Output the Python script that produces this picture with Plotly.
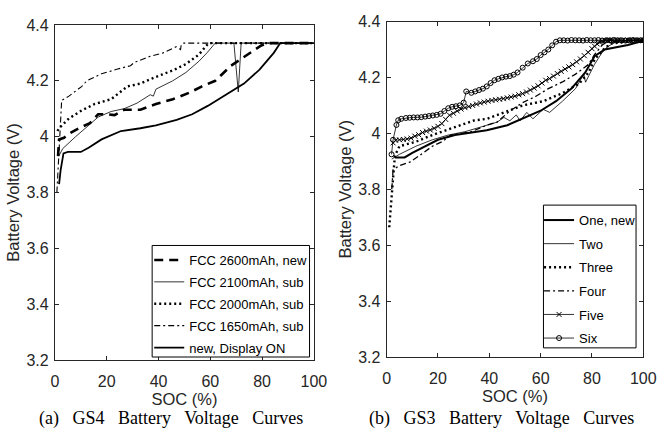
import plotly.graph_objects as go

# ---------------- data: (a) GS4 ----------------
gs4_2600_x = [1.2, 1.6, 3.5, 5.4, 9.2, 13.5, 16.7, 20.5, 23, 26.7, 33, 39, 45.5, 51.8, 56.8, 61.9, 68, 74.4, 79.4, 82, 90, 100]
gs4_2600_y = [3.93, 3.99, 3.996, 4.01, 4.03, 4.048, 4.08, 4.08, 4.077, 4.096, 4.096, 4.117, 4.134, 4.157, 4.18, 4.2, 4.254, 4.294, 4.325, 4.335, 4.335, 4.335]

gs4_2100_x = [1.5, 3, 8, 13, 16.7, 21.7, 26.7, 31.7, 36.8, 38, 39, 45.5, 50.6, 55.6, 58.7, 61.9, 69.1, 70.8, 71.9, 80, 100]
gs4_2100_y = [3.93, 3.957, 4.0, 4.04, 4.07, 4.09, 4.10, 4.12, 4.15, 4.145, 4.17, 4.2, 4.23, 4.27, 4.30, 4.335, 4.335, 4.16, 4.335, 4.335, 4.335]

gs4_2000_x = [1, 1.6, 5.4, 10.4, 15.4, 21.7, 28, 33, 39, 45.5, 50.6, 55.6, 59.3, 70, 100]
gs4_2000_y = [4.02, 4.03, 4.065, 4.094, 4.117, 4.134, 4.18, 4.19, 4.214, 4.237, 4.26, 4.294, 4.335, 4.335, 4.335]

gs4_1650_x = [0.75, 2.6, 5.4, 10.4, 12.3, 18, 24.2, 29.2, 30.5, 36.8, 41.8, 46.8, 48.5, 48.7, 49.5, 60, 100]
gs4_1650_y = [3.8, 4.13, 4.145, 4.18, 4.2, 4.225, 4.242, 4.254, 4.265, 4.288, 4.3, 4.322, 4.312, 4.325, 4.335, 4.335, 4.335]

gs4_disp_x = [1.6, 2.2, 3.3, 5, 10, 13, 18, 25.5, 33, 39, 47, 53, 59, 68, 73, 79, 84.5, 87, 100]
gs4_disp_y = [3.83, 3.88, 3.94, 3.945, 3.945, 3.96, 3.99, 4.02, 4.03, 4.04, 4.06, 4.08, 4.11, 4.16, 4.19, 4.24, 4.30, 4.335, 4.335]

gs4_names = ["FCC 2600mAh, new", "FCC 2100mAh, sub", "FCC 2000mAh, sub", "FCC 1650mAh, sub", "new, Display ON"]

# ---------------- data: (b) GS3 ----------------
gs3_one_x = [3.2, 7, 10, 15, 20, 26.6, 33, 39, 47, 53, 60, 66, 72, 77.4, 81, 85, 94, 100]
gs3_one_y = [3.914, 3.914, 3.93, 3.954, 3.977, 3.994, 4.002, 4.011, 4.029, 4.052, 4.081, 4.115, 4.16, 4.218, 4.276, 4.3, 4.316, 4.331]

gs3_two_x = [2, 5, 11.4, 17.8, 24, 30.5, 36.8, 43, 45.7, 48, 50.5, 52, 54.6, 57, 61, 63.5, 68.5, 73.6, 76.8, 77.5, 81, 83.8, 86, 90, 100]
gs3_two_y = [3.908, 3.925, 3.954, 3.977, 3.994, 4.006, 4.023, 4.04, 4.057, 4.045, 4.066, 4.045, 4.075, 4.052, 4.086, 4.075, 4.115, 4.16, 4.212, 4.183, 4.247, 4.287, 4.31, 4.33, 4.333]

gs3_three_x = [1, 2.3, 3.2, 5, 11.4, 17.8, 25, 34, 39, 47, 53, 61, 68.5, 75, 78.7, 81, 85, 87.6, 100]
gs3_three_y = [3.664, 3.83, 3.92, 3.954, 3.97, 3.994, 4.017, 4.046, 4.052, 4.08, 4.1, 4.115, 4.144, 4.178, 4.218, 4.264, 4.305, 4.322, 4.333]

gs3_four_x = [2, 2.5, 5, 9, 12.7, 17.8, 21.6, 25, 33, 39, 43, 48, 53, 58, 63, 68.5, 73.6, 78.7, 81, 84, 86, 100]
gs3_four_y = [3.8, 3.87, 3.885, 3.897, 3.92, 3.954, 3.97, 3.994, 4.006, 4.029, 4.04, 4.08, 4.11, 4.132, 4.16, 4.184, 4.212, 4.247, 4.282, 4.316, 4.328, 4.333]

gs3_five_x = [2.5, 3.5, 5, 6.5, 8, 9.5, 11, 12.5, 14, 15.5, 17, 18.5, 20, 21.5, 23, 24.5, 26, 27.5, 29, 30.5,
              32, 33.5, 35, 36.5, 38, 39.5, 41, 42.5, 44, 45.5, 47, 48.5, 50, 51.5, 53, 54.5, 56, 57.5, 59, 60.5,
              62, 63.5, 65, 66.5, 68, 69.5, 71, 72.5, 74, 75.5, 77, 78.5, 80, 81, 82, 83, 84, 85, 86, 87,
              88, 89, 90, 91, 92, 93, 94, 95, 96, 97, 98, 99, 100]
gs3_five_y = [3.966, 3.975, 3.977, 3.978, 3.98, 3.983, 3.99, 3.995, 4.003, 4.008, 4.012, 4.018, 4.025, 4.035, 4.05, 4.065, 4.072, 4.08, 4.087, 4.092,
              4.096, 4.1, 4.105, 4.109, 4.112, 4.115, 4.118, 4.12, 4.122, 4.124, 4.127, 4.13, 4.133, 4.138, 4.142, 4.148, 4.155, 4.162, 4.17, 4.18,
              4.19, 4.196, 4.205, 4.214, 4.222, 4.23, 4.238, 4.246, 4.256, 4.266, 4.278, 4.29, 4.303, 4.312, 4.32, 4.326, 4.33, 4.333, 4.332, 4.334,
              4.333, 4.332, 4.334, 4.333, 4.333, 4.332, 4.334, 4.333, 4.333, 4.332, 4.333, 4.334, 4.333]

gs3_six_x = [1.9, 2.5, 3.8, 4.5, 5.7, 7.5, 9, 10.5, 12, 13.5, 15, 16.5, 18, 19.5, 21, 22.5, 24, 25.5, 27, 28.5,
             30, 31, 33, 34.5, 36, 37.5, 39, 40.5, 42, 43.5, 45, 46.5, 48, 49.5, 51, 53, 55, 57, 58.5, 60,
             61.5, 63, 64.5, 66, 67.5, 69, 70.5, 72, 73.5, 75, 76.5, 78, 79.5, 81, 82.5, 84, 85.5, 87, 88.5, 90,
             91.5, 93, 94.5, 96, 97.5, 99, 100]
gs3_six_y = [3.925, 3.977, 4.03, 4.047, 4.052, 4.055, 4.056, 4.057, 4.057, 4.058, 4.06, 4.062, 4.064, 4.066, 4.07, 4.08, 4.09, 4.095, 4.097, 4.1,
             4.11, 4.15, 4.145, 4.15, 4.155, 4.16, 4.168, 4.18, 4.19, 4.195, 4.2, 4.203, 4.205, 4.21, 4.218, 4.235, 4.25, 4.258, 4.266, 4.28,
             4.29, 4.3, 4.315, 4.328, 4.333, 4.333, 4.332, 4.334, 4.333, 4.333, 4.332, 4.334, 4.333, 4.333, 4.334, 4.332, 4.333, 4.333, 4.334, 4.333,
             4.333, 4.332, 4.333, 4.334, 4.333, 4.333, 4.333]

gs3_names = ["One, new", "Two", "Three", "Four", "Five", "Six"]

x_ticks = [0, 20, 40, 60, 80, 100]
y_ticks = [3.2, 3.4, 3.6, 3.8, 4.0, 4.2, 4.4]
y_tick_text = ["3.2", "3.4", "3.6", "3.8", "4", "4.2", "4.4"]
captions = ["(a)\u00a0\u00a0 GS4\u00a0\u00a0 Battery\u00a0\u00a0 Voltage\u00a0\u00a0 Curves",
            "(b)\u00a0\u00a0 GS3\u00a0\u00a0 Battery\u00a0\u00a0 Voltage\u00a0\u00a0 Curves"]

K = "black"
fig = go.Figure()

def add(x, y, name, idx, leg, xa, ya, mode="lines", line=None, marker=None):
    kw = dict(x=x, y=y, name=name, mode=mode, line=line, xaxis=xa, yaxis=ya,
              legend=leg, legendgroup=f"{leg}{idx}")
    if marker is not None:
        kw["marker"] = marker
    fig.add_trace(go.Scatter(**kw))

# (a)
add(gs4_2600_x, gs4_2600_y, gs4_names[0], 0, "legend", "x", "y", line=dict(color=K, width=2.6, dash="9px,6px"))
add(gs4_2100_x, gs4_2100_y, gs4_names[1], 1, "legend", "x", "y", line=dict(color=K, width=0.8))
add(gs4_2000_x, gs4_2000_y, gs4_names[2], 2, "legend", "x", "y", line=dict(color=K, width=2.4, dash="2px,3px"))
add(gs4_1650_x, gs4_1650_y, gs4_names[3], 3, "legend", "x", "y", line=dict(color=K, width=1.1, dash="6px,3px,2px,3px"))
add(gs4_disp_x, gs4_disp_y, gs4_names[4], 4, "legend", "x", "y", line=dict(color=K, width=1.8))

# (b)
add(gs3_one_x, gs3_one_y, gs3_names[0], 0, "legend2", "x2", "y2", line=dict(color=K, width=2.0))
add(gs3_two_x, gs3_two_y, gs3_names[1], 1, "legend2", "x2", "y2", line=dict(color=K, width=0.8))
add(gs3_three_x, gs3_three_y, gs3_names[2], 2, "legend2", "x2", "y2", line=dict(color=K, width=2.4, dash="2px,3px"))
add(gs3_four_x, gs3_four_y, gs3_names[3], 3, "legend2", "x2", "y2", line=dict(color=K, width=1.3, dash="6px,3px,2px,3px"))
add(gs3_five_x, gs3_five_y, gs3_names[4], 4, "legend2", "x2", "y2", mode="lines+markers",
    line=dict(color=K, width=0.8),
    marker=dict(symbol="x-thin-open", size=5, color=K, line=dict(color=K, width=1)))
add(gs3_six_x, gs3_six_y, gs3_names[5], 5, "legend2", "x2", "y2", mode="lines+markers",
    line=dict(color=K, width=0.8),
    marker=dict(symbol="circle-open", size=5, color=K, line=dict(color=K, width=1)))

AX = "#262626"
tickfont = dict(family="Liberation Sans, Arial, sans-serif", size=16, color=AX)
titlefont = dict(family="Liberation Sans, Arial, sans-serif", size=16.5, color=AX)

def xax(domain, anchor):
    return dict(domain=domain, anchor=anchor, range=[0, 100], tickvals=x_ticks,
                ticks="inside", ticklen=4, tickcolor=AX, showline=True, linecolor=AX, linewidth=1,
                mirror="ticks", showgrid=False, zeroline=False, tickfont=tickfont, ticklabelstandoff=7,
                title=dict(text="SOC (%)", font=titlefont, standoff=3))

def yax(domain, anchor):
    return dict(domain=domain, anchor=anchor, range=[3.2, 4.4], tickvals=y_ticks, ticktext=y_tick_text,
                ticks="inside", ticklen=4, tickcolor=AX, showline=True, linecolor=AX, linewidth=1,
                mirror="ticks", showgrid=False, zeroline=False, tickfont=tickfont, ticklabelstandoff=2,
                title=dict(text="Battery Voltage (V)", font=titlefont, standoff=2))

def px_x(p):
    return p / 670

def px_y(p):
    return 1 - p / 441

fig.update_layout(
    width=670, height=441,
    margin=dict(l=0, r=0, t=0, b=0),
    paper_bgcolor="white", plot_bgcolor="white",
    showlegend=True,
    xaxis=xax([0.078, 0.4746], "y"),
    yaxis=yax([0.17, 0.96], "x"),
    xaxis2=xax([0.586, 0.979], "y2"),
    yaxis2=yax([0.177, 0.968], "x2"),
    legend=dict(x=px_x(149), xanchor="left", y=px_y(246.5), yanchor="top",
                bgcolor="rgba(0,0,0,0)", borderwidth=0,
                font=dict(family="Liberation Sans, Arial, sans-serif", size=13, color="black"),
                itemwidth=30, tracegroupgap=2.0),
    legend2=dict(x=px_x(549), xanchor="left", y=px_y(205), yanchor="top",
                 bgcolor="rgba(0,0,0,0)", borderwidth=0,
                 font=dict(family="Liberation Sans, Arial, sans-serif", size=13, color="black"),
                 itemwidth=30, tracegroupgap=3.7),
    shapes=[
        dict(type="rect", xref="paper", yref="paper", layer="above",
             x0=px_x(152), x1=px_x(313.5), y0=px_y(363), y1=px_y(247),
             fillcolor="white", line=dict(color="black", width=1)),
        dict(type="rect", xref="paper", yref="paper", layer="above",
             x0=px_x(553.5), x1=px_x(648.5), y0=px_y(353.5), y1=px_y(205),
             fillcolor="white", line=dict(color="black", width=1)),
    ],
    annotations=[
        dict(text=captions[0], x=171 / 670, y=1 - 427 / 441, xref="paper", yref="paper",
             showarrow=False, xanchor="center", yanchor="middle",
             font=dict(family="Liberation Serif, Times New Roman, serif", size=18, color="black")),
        dict(text=captions[1], x=510 / 670, y=1 - 427 / 441, xref="paper", yref="paper",
             showarrow=False, xanchor="center", yanchor="middle",
             font=dict(family="Liberation Serif, Times New Roman, serif", size=18, color="black")),
    ],
)

fig.write_html("out.html")
